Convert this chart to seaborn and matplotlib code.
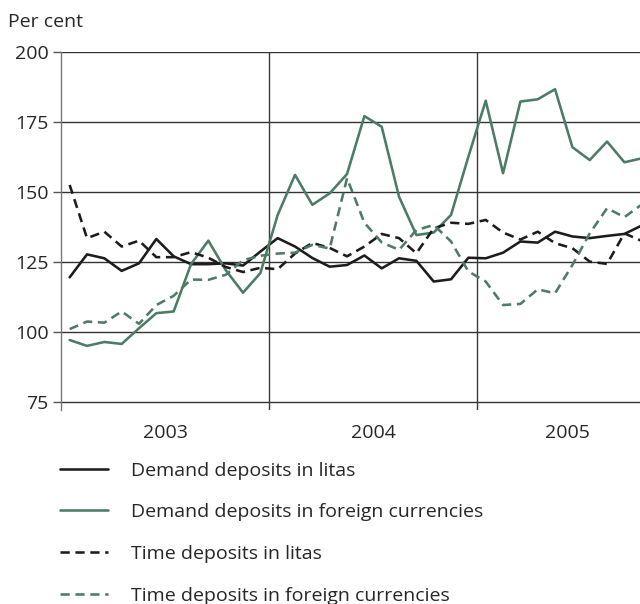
import numpy as np
import pandas as pd
import matplotlib
matplotlib.use("Agg")
import matplotlib.pyplot as plt
import seaborn as sns

# Monthly index values, Jan 2003 - Oct 2005 (per cent)
months = pd.period_range("2003-01", "2005-10", freq="M").astype(str)
demand_litas = [119.5, 127.7, 126.3, 121.8, 124.5, 133.2, 127.0, 124.2, 124.2, 124.5, 123.7, 128.7,
                133.5, 130.5, 126.4, 123.3, 123.9, 127.3, 122.7, 126.3, 125.4, 118.0, 118.8, 126.5,
                126.3, 128.3, 132.3, 131.9, 135.8, 134.1, 133.5, 134.3, 135.0, 138.0]
demand_foreign = [97.1, 95.0, 96.4, 95.7, 101.3, 106.7, 107.3, 124.2, 132.6, 122.1, 114.0, 121.0,
                  141.8, 156.1, 145.4, 149.5, 156.4, 177.1, 173.3, 148.3, 134.6, 135.5, 141.8, 162.6,
                  182.6, 156.7, 182.3, 183.1, 186.7, 166.0, 161.4, 168.0, 160.6, 162.0]
time_litas = [152.5, 133.5, 135.8, 130.5, 132.6, 126.7, 126.7, 128.5, 126.5, 123.2, 121.4, 122.9,
              122.4, 128.0, 131.8, 130.0, 127.0, 130.5, 135.0, 133.5, 128.1, 137.0, 139.0, 138.6,
              140.0, 135.5, 133.0, 135.8, 131.7, 129.9, 125.1, 124.3, 135.2, 132.5]
time_foreign = [101.0, 103.7, 103.3, 107.3, 102.9, 109.6, 112.9, 118.7, 118.6, 120.4, 125.6, 127.2,
                128.0, 128.3, 131.1, 129.8, 154.9, 139.0, 132.0, 129.3, 136.4, 138.2, 132.3, 121.6,
                118.0, 109.6, 110.0, 115.2, 113.8, 123.9, 135.2, 144.2, 141.0, 145.5]

series_names = ["Demand deposits in litas", "Demand deposits in foreign currencies",
                "Time deposits in litas", "Time deposits in foreign currencies"]
year_labels = ["2003", "2004", "2005"]

df = pd.DataFrame({
    "month": np.arange(len(months)) + 0.5,
    series_names[0]: demand_litas,
    series_names[1]: demand_foreign,
    series_names[2]: time_litas,
    series_names[3]: time_foreign,
})
long = df.melt(id_vars="month", var_name="series", value_name="value")

sns.set_style("white")
plt.rcParams["font.family"] = ["Open Sans", "DejaVu Sans"]

black = "#1c1c1c"
green = "#4c7b66"
text_col = "#262626"
palette = {series_names[0]: black, series_names[1]: green,
           series_names[2]: black, series_names[3]: green}
dash = (3.6, 2.2)
dashes = {series_names[0]: "", series_names[1]: "",
          series_names[2]: dash, series_names[3]: dash}

fig = plt.figure(figsize=(6.4, 6.04), dpi=100)
ax = fig.add_axes([61 / 640, 1 - 410 / 604, 1 - 61 / 640, (410 - 52) / 604])

sns.lineplot(data=long, x="month", y="value", hue="series", style="series",
             palette=palette, dashes=dashes, linewidth=1.85, ax=ax, legend=False)

ax.set_xlim(0, 33.4)
ax.set_ylim(72.1, 200)
ax.set_yticks([75, 100, 125, 150, 175, 200])
for v in [75, 100, 125, 150, 175, 200]:
    ax.axhline(v, color="#333333", lw=1.0, zorder=0)
for m in [12, 24]:
    ax.axvline(m, color="#3a3a3a", lw=1.0, zorder=0)

ax.set_xticks([6, 18, 29.2])
ax.set_xticklabels(year_labels)
ax.tick_params(axis="x", length=0, labelsize=14, pad=10, labelcolor=text_col)
ax.tick_params(axis="y", length=6, width=1.0, color="#555555", labelsize=14,
               pad=3, labelcolor=text_col, left=True)

for s in ["top", "right", "bottom"]:
    ax.spines[s].set_visible(False)
ax.spines["left"].set_color("#777777")
ax.spines["left"].set_linewidth(1.0)
ax.set_xlabel("")
ax.set_ylabel("")

fig.text(8 / 640, 1 - 22 / 604, "Per cent", fontsize=14, va="center", ha="left", color=text_col)

handles = [
    plt.Line2D([], [], color=black, lw=1.85),
    plt.Line2D([], [], color=green, lw=1.85),
    plt.Line2D([], [], color=black, lw=1.85, dashes=dash),
    plt.Line2D([], [], color=green, lw=1.85, dashes=dash),
]
fig.legend(handles, series_names, loc="upper left", bbox_to_anchor=(42 / 640, 1 - 444 / 604),
           frameon=False, fontsize=14, handlelength=2.47, handletextpad=1.19,
           labelspacing=1.22, labelcolor=text_col)

fig.savefig("out.png", dpi=100)
